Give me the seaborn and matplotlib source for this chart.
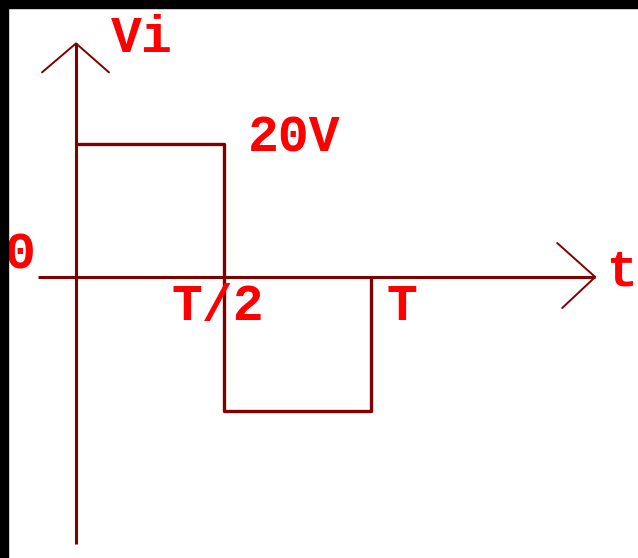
import numpy as np
import pandas as pd
import seaborn as sns
import matplotlib.pyplot as plt
from matplotlib.patches import Rectangle

sns.set_style("white")

# square wave, time in units of T, voltage in V
t_pts = [0, 0.5, 0.5, 1.0, 1.0]
v_pts = [20, 20, -20, -20, 0]

# axis extents (data units)
t_axis = [-0.13, 1.76]
v_axis = [-40, 35]

# labels: text, pixel x centre, pixel baseline
labels = ["Vi", "20V", "0", "T/2", "T", "t"]
label_x = [142, 294, 20, 218, 402, 622]
label_y = [52, 152, 269, 320, 320, 286]

W, H = 638, 558
x0, y0 = 76, 277          # origin pixel
px_t, px_v = 295, 6.675   # pixels per T, pixels per volt

fig = plt.figure(figsize=(W / 100, H / 100), dpi=100)
ax = fig.add_axes([0, 0, 1, 1])
ax.set_xlim(-x0 / px_t, (W - x0) / px_t)
ax.set_ylim(-(H - y0) / px_v, y0 / px_v)
ax.axis("off")

dark = "#800000"
red = "#ff0000"

# axes
ax.plot([0, 0], v_axis, color=dark, lw=2.2, solid_capstyle="butt")
ax.plot(t_axis, [0, 0], color=dark, lw=2.2, solid_capstyle="butt")

# arrow heads
top = v_axis[1]
ax.plot([-34 / px_t, 0, 33 / px_t], [top - 29 / px_v, top, top - 29 / px_v], color=dark, lw=1.4)
right = t_axis[1]
ax.plot([right - 38 / px_t, right, right - 33 / px_t], [34 / px_v, 0, -31 / px_v], color=dark, lw=1.4)

# the wave
df = pd.DataFrame({"t": t_pts, "v": v_pts})
sns.lineplot(data=df, x="t", y="v", sort=False, estimator=None, color=dark, lw=2.4, ax=ax)

for s, x, y in zip(labels, label_x, label_y):
    ax.text(x / W, 1 - y / H, s, transform=ax.transAxes, ha="center", va="baseline",
            color=red, fontsize=37, fontweight="bold", family="Liberation Mono")

# black frame on top and left
fig.patches.append(Rectangle((0, 1 - 8 / H), 1, 8 / H, transform=fig.transFigure, color="black", zorder=10))
fig.patches.append(Rectangle((0, 0), 8 / W, 1, transform=fig.transFigure, color="black", zorder=10))

fig.savefig("out.png", dpi=100)
